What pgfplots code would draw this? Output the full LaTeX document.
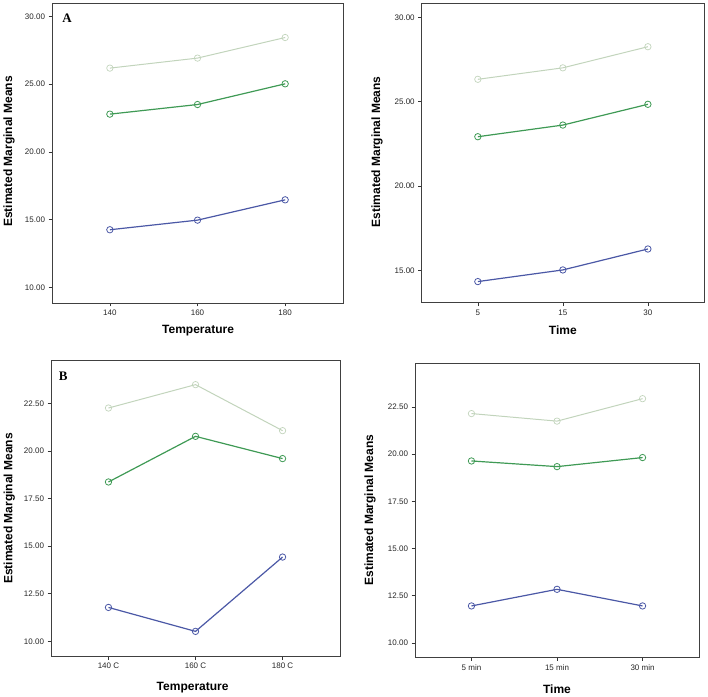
\documentclass[border=0pt]{standalone}
\usepackage{fontspec}
\setmainfont{Liberation Sans}
\newfontfamily\letterfont{Liberation Serif}
\usepackage{pgfplots}
\pgfplotsset{compat=1.18}
\definecolor{cblue}{HTML}{4B58A6}
\definecolor{cgreen}{HTML}{3F9A55}
\definecolor{clight}{HTML}{C2D4BC}
\pgfplotsset{
  spss/.style={
    scale only axis,
    xmin=-0.66, xmax=2.66,
    xtick={0,1,2},
    tick align=outside,
    major tick length=3.5pt,
    xtick pos=left, ytick pos=left,
    tick style={black!80, line width=0.6pt},
    axis line style={line width=0.9pt, draw=black!75},
    ticklabel style={font=\fontsize{8}{9}\selectfont, text=black!85},
    yticklabel style={/pgf/number format/.cd, fixed, fixed zerofill, precision=2},
    /pgf/number format/assume math mode=true,
    label style={font=\fontsize{12}{14}\selectfont\bfseries},
    clip=false,
  },
  lblue/.style={color=cblue, line width=1.2pt, mark=o, mark size=3.2pt, mark options={solid, line width=0.8pt}},
  lgreen/.style={color=cgreen, line width=1.2pt, mark=o, mark size=3.2pt, mark options={solid, line width=0.8pt}},
  llight/.style={color=clight, line width=1.0pt, mark=o, mark size=3.2pt, mark options={solid, line width=0.7pt}},
}
\begin{document}
\begin{tikzpicture}
\path (0pt,0pt) rectangle (708pt,696pt);
% Panel A (top left)
\begin{axis}[spss, at={(52pt,393pt)}, anchor=south west, width=291pt, height=300pt,
  ymin=8.84, ymax=31.0, ytick={10,15,20,25,30},
  xticklabels={140,160,180},
  xlabel={Temperature}, ylabel={Estimated Marginal Means},
  xlabel style={at={(axis description cs:0.502,-0.093)}, anchor=center},
  ylabel style={at={(axis description cs:-0.148,0.505)}, anchor=center},
]
\addplot[llight] coordinates {(0,26.19) (1,26.93) (2,28.45)};
\addplot[lgreen] coordinates {(0,22.79) (1,23.50) (2,25.03)};
\addplot[lblue] coordinates {(0,14.25) (1,14.96) (2,16.46)};
\node[font=\fontsize{13}{15}\selectfont\letterfont\bfseries, anchor=center] at (rel axis cs:0.052,0.95) {A};
\end{axis}
% Panel top right
\begin{axis}[spss, at={(421.7pt,393.3pt)}, anchor=south west, width=282.3pt, height=299.7pt,
  ymin=13.1, ymax=30.85, ytick={15,20,25,30},
  xticklabels={5,15,30},
  xlabel={Time}, ylabel={Estimated Marginal Means},
  xlabel style={at={(axis description cs:0.50,-0.091)}, anchor=center},
  ylabel style={at={(axis description cs:-0.158,0.503)}, anchor=center},
]
\addplot[llight] coordinates {(0,26.33) (1,27.01) (2,28.26)};
\addplot[lgreen] coordinates {(0,22.93) (1,23.62) (2,24.85)};
\addplot[lblue] coordinates {(0,14.35) (1,15.04) (2,16.28)};
\end{axis}
% Panel B (bottom left)
\begin{axis}[spss, at={(51pt,39.7pt)}, anchor=south west, width=289pt, height=295.6pt,
  ymin=9.21, ymax=24.76, ytick={10,12.5,15,17.5,20,22.5},
  xticklabels={140 C,160 C,180 C},
  xlabel={Temperature}, ylabel={Estimated Marginal Means},
  xlabel style={at={(axis description cs:0.49,-0.107)}, anchor=center},
  ylabel style={at={(axis description cs:-0.144,0.50)}, anchor=center},
]
\addplot[llight] coordinates {(0,22.27) (1,23.50) (2,21.08)};
\addplot[lgreen] coordinates {(0,18.38) (1,20.78) (2,19.61)};
\addplot[lblue] coordinates {(0,11.78) (1,10.52) (2,14.43)};
\node[font=\fontsize{13}{15}\selectfont\letterfont\bfseries, anchor=center] at (rel axis cs:0.042,0.948) {B};
\end{axis}
% Panel bottom right
\begin{axis}[spss, at={(415pt,38.7pt)}, anchor=south west, width=284pt, height=294.3pt,
  ymin=9.24, ymax=24.83, ytick={10,12.5,15,17.5,20,22.5},
  xticklabels={5 min,15 min,30 min},
  xlabel={Time}, ylabel={Estimated Marginal Means},
  xlabel style={at={(axis description cs:0.50,-0.108)}, anchor=center},
  ylabel style={at={(axis description cs:-0.158,0.50)}, anchor=center},
]
\addplot[llight] coordinates {(0,22.15) (1,21.75) (2,22.94)};
\addplot[lgreen] coordinates {(0,19.64) (1,19.34) (2,19.82)};
\addplot[lblue] coordinates {(0,11.96) (1,12.84) (2,11.96)};
\end{axis}
\end{tikzpicture}
\end{document}
